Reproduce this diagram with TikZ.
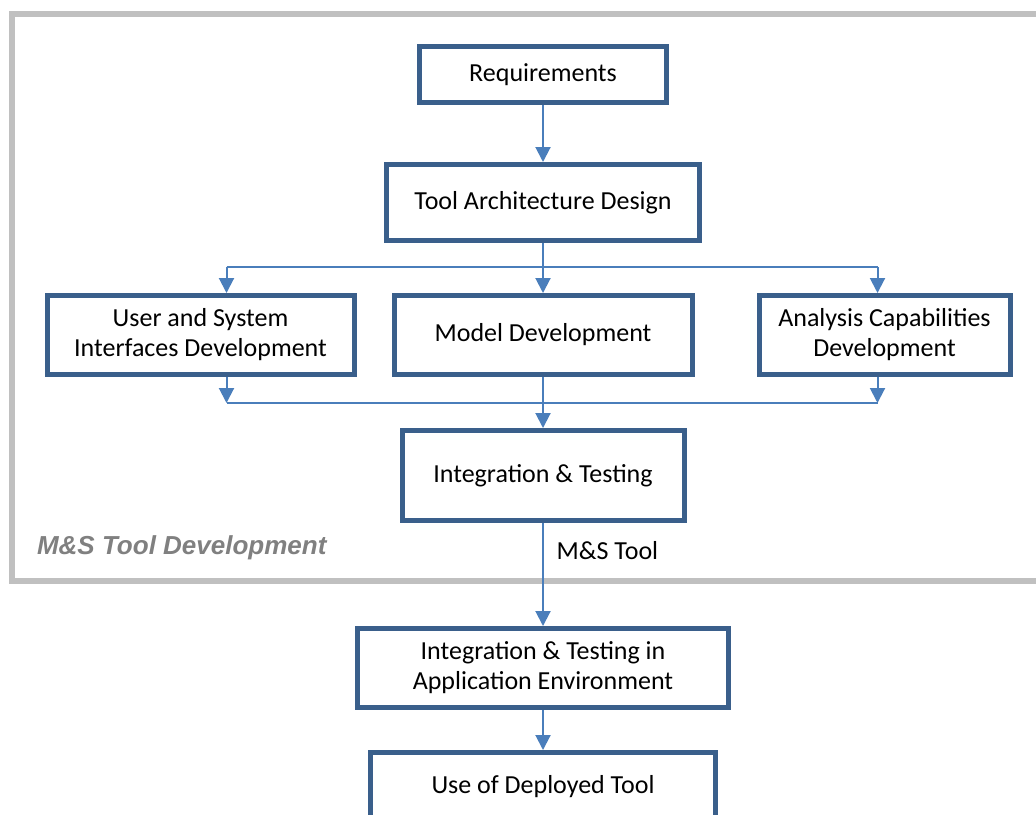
\documentclass[tikz,border=0pt]{standalone}
\usepackage{fontspec}
\setmainfont{Carlito}
\newfontfamily\labelfont{Liberation Sans}
\usetikzlibrary{arrows.meta, positioning, calc}
\definecolor{boxblue}{RGB}{58, 95, 139}
\definecolor{arrowblue}{RGB}{74, 126, 187}
\definecolor{framegray}{RGB}{192, 192, 192}
\definecolor{labelgray}{RGB}{128, 128, 128}
\tikzset{
    stage/.style={
        rectangle,
        draw=boxblue,
        line width=2.5pt,
        fill=white,
        align=center,
        inner sep=2pt,
        font=\fontsize{13}{15}\selectfont
    },
    flow/.style={
        line width=1pt,
        -{Triangle[width=7.5pt,length=7.5pt]},
        color=arrowblue
    },
    branch/.style={
        line width=1pt,
        color=arrowblue
    },
    devframe/.style={
        draw=framegray,
        line width=3pt
    },
    framelabel/.style={
        font=\labelfont\bfseries\itshape\fontsize{13}{15}\selectfont,
        color=labelgray
    },
    tag/.style={
        font=\fontsize{13}{15}\selectfont,
        color=black
    }
}

\begin{document}
\begin{tikzpicture}[node distance=25pt]
    \useasboundingbox [fill=white] (0,0) rectangle (518pt,-407pt);

    % Frame round the tool development part
    \draw [devframe] (5.75pt,-6.75pt) rectangle (545pt,-290.5pt);
    \node (devlabel) [framelabel, anchor=west] at (15pt,-274pt) {M\&S Tool Development};

    % Define main stage nodes
    \node (req) [stage, minimum width=123.5pt, minimum height=28pt] at (271.5pt,-37.25pt) {Requirements};
    \node (tad) [stage, minimum width=156.5pt, minimum height=38pt, below=28.5pt of req] {Tool Architecture Design};
    \node (model) [stage, minimum width=149pt, minimum height=39.5pt, below=25pt of tad] {Model Development};
    \node (user) [stage, minimum width=153.5pt, minimum height=39.5pt, left=17.5pt of model] {User and System\\Interfaces Development};
    \node (analysis) [stage, minimum width=125.5pt, minimum height=39.5pt, right=31pt of model] {Analysis Capabilities\\Development};
    \node (integ) [stage, minimum width=141pt, minimum height=45pt, below=25.5pt of model] {Integration \& Testing};
    \node (appenv) [stage, minimum width=185.5pt, minimum height=39.5pt, below=51.5pt of integ] {Integration \& Testing in\\Application Environment};
    \node (deploy) [stage, minimum width=172.5pt, minimum height=34.5pt, below=20pt of appenv] {Use of Deployed Tool};

    % Split and merge points
    \coordinate (splitL) at ($(user.north)+(13pt,13pt)$);
    \coordinate (splitR) at ($(analysis.north)+(-3.5pt,13pt)$);
    \coordinate (mergeL) at ($(user.south)+(13pt,-13pt)$);
    \coordinate (mergeR) at ($(analysis.south)+(-3.5pt,-13pt)$);

    % Draw arrows
    \draw [flow] (req) -- (tad);
    \draw [flow] (tad) -- (model);
    \draw [branch] (splitL) -- (splitR);
    \draw [flow] (splitL) -- (splitL |- user.north);
    \draw [flow] (splitR) -- (splitR |- analysis.north);
    \draw [flow] (splitL |- user.south) -- (mergeL);
    \draw [flow] (splitR |- analysis.south) -- (mergeR);
    \draw [branch] (mergeL) -- (mergeR);
    \draw [flow] (model) -- (integ);
    \draw [flow] (integ) -- node [tag, pos=0.27, right, xshift=3pt] {M\&S Tool} (appenv);
    \draw [flow] (appenv) -- (deploy);

\end{tikzpicture}
\end{document}
